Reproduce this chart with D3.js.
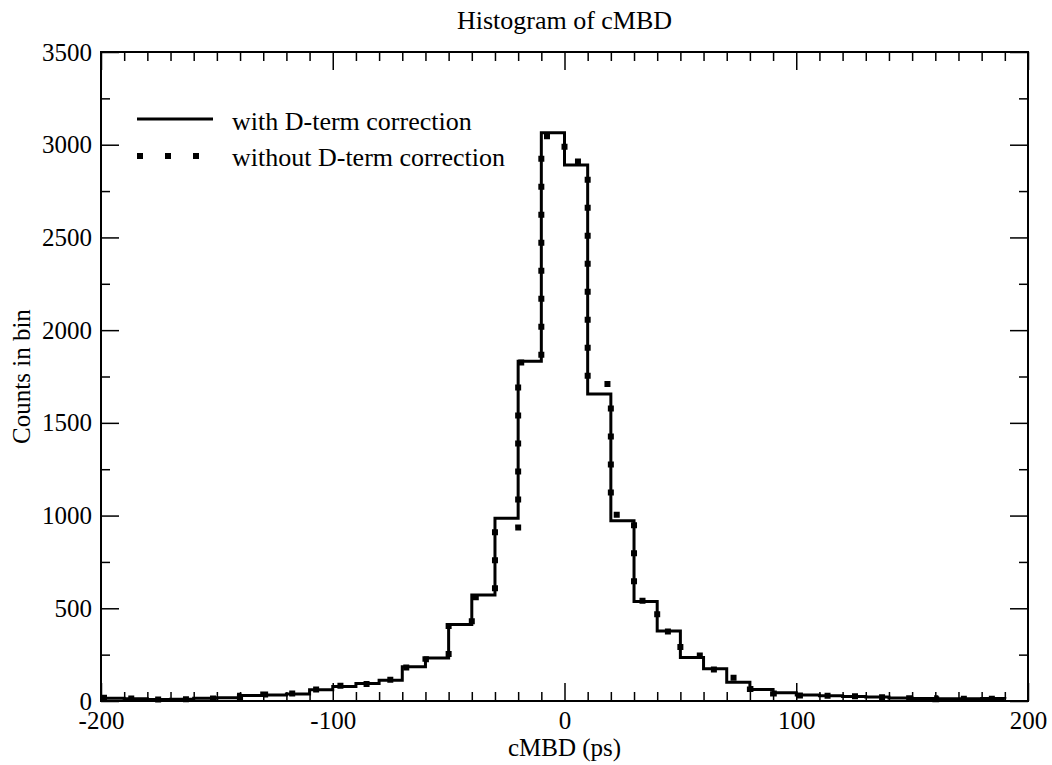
<!DOCTYPE html>
<html><head><meta charset="utf-8">
<script src="https://cdn.jsdelivr.net/npm/d3@7"></script>
<style>
body{margin:0;background:#fff;}
text{font-family:"Liberation Serif","Times New Roman",serif;fill:#000;}
</style></head>
<body><svg id="c" width="1052" height="765"></svg>
<script>
// bin start (ps), last entry closes the step line
const binStarts = [-200,-190,-180,-170,-160,-150,-140,-130,-120,-110,-100,-90,-80,-70,-60,-50,-40,-30,-20,-10,0,10,20,30,40,50,60,70,80,90,100,110,120,130,140,150,160,170,180,190];
const withCorr = [15,12,8,10,15,18,30,33,38,60,78,95,112,185,232,412,572,985,1832,3065,2890,1655,972,536,378,234,174,101,62,45,32,28,24,22,16,14,12,12,14,12];
const withoutCorr = [18,14,8,9,14,20,28,35,40,62,82,92,115,180,225,405,560,935,1825,3045,2910,1710,1005,540,375,245,170,125,65,40,30,28,25,20,15,15,10,12,12,12];
const seriesNames = ["with D-term correction","without D-term correction"];
const xMajor = [-200,-100,0,100,200];
const yMajor = [0,500,1000,1500,2000,2500,3000,3500];

const W=1052,H=765, L=101, T=52, R=1028, B=701;
const svg=d3.select("#c");
const x=d3.scaleLinear().domain([-200,200]).range([L,R]);
const y=d3.scaleLinear().domain([0,3500]).range([B,T]);
const xMinor=d3.range(-200,201,10).filter(v=>!xMajor.includes(v));
const yMinor=d3.range(0,3501,250).filter(v=>!yMajor.includes(v));
const fmt=d=>String(d);

function styleAxis(g){g.select(".domain").remove();g.selectAll(".tick line").attr("stroke","#000").attr("stroke-width",1.5);}
// bottom
svg.append("g").attr("transform",`translate(0,${B})`).call(d3.axisBottom(x).tickValues(xMajor).tickSize(-18).tickPadding(28).tickFormat(fmt)).call(styleAxis).selectAll("text").attr("font-size",25).attr("dy",0);
svg.append("g").attr("transform",`translate(0,${B})`).call(d3.axisBottom(x).tickValues(xMinor).tickSize(-9).tickFormat("")).call(styleAxis);
// top
svg.append("g").attr("transform",`translate(0,${T})`).call(d3.axisTop(x).tickValues(xMajor).tickSize(-18).tickFormat("")).call(styleAxis);
svg.append("g").attr("transform",`translate(0,${T})`).call(d3.axisTop(x).tickValues(xMinor).tickSize(-9).tickFormat("")).call(styleAxis);
// left
svg.append("g").attr("transform",`translate(${L},0)`).call(d3.axisLeft(y).tickValues(yMajor).tickSize(-18).tickPadding(9).tickFormat(fmt)).call(styleAxis).selectAll("text").attr("font-size",25);
svg.append("g").attr("transform",`translate(${L},0)`).call(d3.axisLeft(y).tickValues(yMinor).tickSize(-9).tickFormat("")).call(styleAxis);
// right
svg.append("g").attr("transform",`translate(${R},0)`).call(d3.axisRight(y).tickValues(yMajor).tickSize(-18).tickFormat("")).call(styleAxis);
svg.append("g").attr("transform",`translate(${R},0)`).call(d3.axisRight(y).tickValues(yMinor).tickSize(-9).tickFormat("")).call(styleAxis);

// frame
svg.append("rect").attr("x",L).attr("y",T).attr("width",R-L).attr("height",B-T).attr("fill","none").attr("stroke","#000").attr("stroke-width",2);

const line=d3.line().x((d,i)=>x(binStarts[i])).y(d=>y(d)).curve(d3.curveStepAfter);
svg.append("path").attr("d",line(withoutCorr)).attr("fill","none").attr("stroke","#000").attr("stroke-width",6).attr("stroke-dasharray","6,22");
svg.append("path").attr("d",line(withCorr)).attr("fill","none").attr("stroke","#000").attr("stroke-width",3);

// legend
svg.append("line").attr("x1",137).attr("x2",213).attr("y1",119).attr("y2",119).attr("stroke","#000").attr("stroke-width",3);
svg.append("line").attr("x1",137).attr("x2",213).attr("y1",156).attr("y2",156).attr("stroke","#000").attr("stroke-width",6).attr("stroke-dasharray","6,22");
svg.append("text").attr("x",232).attr("y",130).attr("font-size",26).text(seriesNames[0]);
svg.append("text").attr("x",232).attr("y",166).attr("font-size",26).text(seriesNames[1]);

// titles
svg.append("text").attr("x",(L+R)/2).attr("y",29).attr("text-anchor","middle").attr("font-size",26).text("Histogram of cMBD");
svg.append("text").attr("x",(L+R)/2).attr("y",756).attr("text-anchor","middle").attr("font-size",25).text("cMBD (ps)");
svg.append("text").attr("transform",`translate(30,${(T+B)/2}) rotate(-90)`).attr("text-anchor","middle").attr("font-size",25).text("Counts in bin");
</script></body></html>
